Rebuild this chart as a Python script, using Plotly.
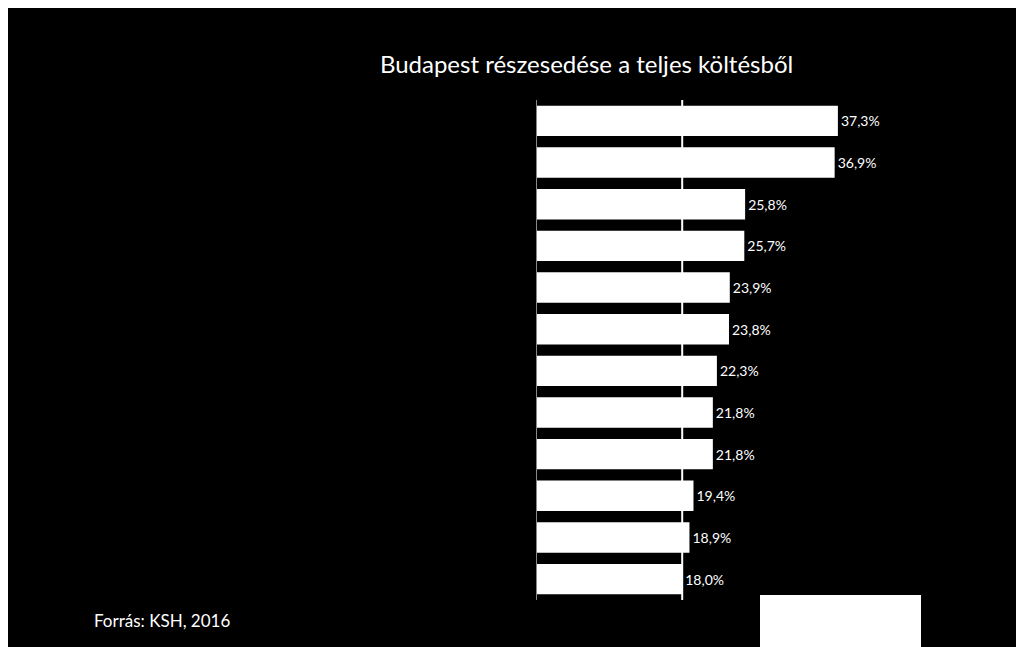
import plotly.graph_objects as go

categories = [f"Kategória {i}" for i in range(1, 13)]
shares = [37.3, 36.9, 25.8, 25.7, 23.9, 23.8, 22.3, 21.8, 21.8, 19.4, 18.9, 18.0]
labels = [f"{v:.1f}%".replace(".", ",") for v in shares]
ref_line = 18.0

# plot area in pixels (page has an 8px body margin)
L, T, W, H = 529, 92, 363, 500

def px(x):
    return (x - 8 - L) / W

def py(y):
    return 1 - (y - 8 - T) / H

fig = go.Figure()
fig.add_bar(
    x=shares, y=categories, orientation="h",
    marker=dict(color="white", line=dict(width=0)),
    text=labels, textposition="outside", cliponaxis=False,
    textfont=dict(color="white", size=14, family="Lato"),
)
fig.add_vline(x=ref_line, line=dict(color="white", width=2))

fig.update_layout(
    width=1024, height=647,
    paper_bgcolor="black", plot_bgcolor="black",
    margin=dict(l=L, r=1024 - L - W, t=T, b=647 - T - H),
    bargap=0.27, showlegend=False,
    title=dict(text="Budapest részesedése a teljes költésből", x=0.565, y=0.925,
               xanchor="center", font=dict(color="white", size=24, family="Lato")),
    xaxis=dict(range=[0, 45], visible=False),
    yaxis=dict(autorange="reversed", showticklabels=False, showgrid=False,
               showline=True, linecolor="#888", linewidth=1),
    shapes=[
        dict(type="rect", xref="paper", yref="paper", layer="above",
             x0=px(37), x1=px(530), y0=py(607), y1=py(95),
             fillcolor="white", line=dict(width=0)),
        dict(type="rect", xref="paper", yref="paper", layer="above",
             x0=px(760), x1=px(921), y0=py(655), y1=py(595),
             fillcolor="white", line=dict(width=0)),
    ],
    annotations=[dict(text="Forrás: KSH, 2016", xref="paper", yref="paper",
                      x=px(92), y=py(620), xanchor="left", yanchor="middle",
                      showarrow=False, font=dict(color="white", size=17, family="Lato"))],
)
fig.write_html("out.html")
